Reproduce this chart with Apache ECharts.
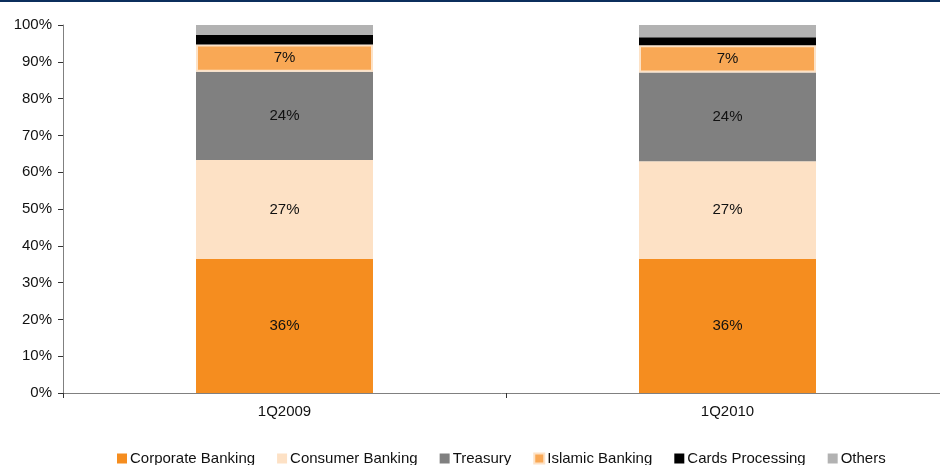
<!DOCTYPE html>
<html>
<head>
<meta charset="utf-8">
<style>
  html, body { margin: 0; padding: 0; background: #ffffff; }
  #chart { width: 940px; height: 465px; }
</style>
<script src="https://cdn.jsdelivr.net/npm/echarts@6/dist/echarts.min.js"></script>
</head>
<body>
<div id="chart"></div>
<script>
// Revenue mix by business segment (% of total)
const quarters = ['1Q2009', '1Q2010'];
const corporateBanking = [36.4, 36.4];
const consumerBanking = [26.9, 26.6];
const treasury = [24.0, 24.1];
const islamicBanking = [7.4, 7.4];
const cardsProcessing = [2.6, 2.2];
const others = [2.7, 3.3];
const yTicks = { min: 0, max: 100, step: 10 };

const FONT = '"Liberation Sans", Arial, sans-serif';
const FS = 15;

function seg(name, data, color, showLabel, extraStyle) {
  return {
    name: name,
    type: 'bar',
    stack: 'mix',
    barWidth: 177,
    data: data,
    itemStyle: Object.assign({ color: color }, extraStyle || {}),
    label: {
      show: showLabel,
      position: 'inside',
      fontFamily: FONT,
      fontSize: FS,
      color: '#111',
      formatter: p => Math.round(p.value) + '%'
    },
    emphasis: { disabled: true }
  };
}

const chart = echarts.init(document.getElementById('chart'), null, { renderer: 'canvas' });
chart.setOption({
  animation: false,
  backgroundColor: '#ffffff',
  graphic: [{
    type: 'rect',
    left: 0, top: 0,
    shape: { width: 940, height: 2 },
    style: { fill: '#0b2e5c' }
  }],
  // the category band runs slightly past the right edge of the canvas
  grid: { left: 63, width: 886, top: 25, bottom: 72, containLabel: false, outerBoundsMode: 'none' },
  legend: {
    left: 112,
    bottom: -6,
    itemWidth: 10,
    itemHeight: 10,
    itemGap: 22,
    icon: 'rect',
    textStyle: { fontFamily: FONT, fontSize: FS, color: '#111', padding: [0, 0, 0, -2] },
    data: ['Corporate Banking', 'Consumer Banking', 'Treasury', 'Islamic Banking', 'Cards Processing', 'Others']
  },
  xAxis: {
    type: 'category',
    data: quarters,
    axisLine: { lineStyle: { color: '#808080', width: 1 } },
    axisTick: { show: true, alignWithLabel: false, length: 5, lineStyle: { color: '#333' } },
    axisLabel: { fontFamily: FONT, fontSize: FS, color: '#111', margin: 11 }
  },
  yAxis: {
    type: 'value',
    min: yTicks.min,
    max: yTicks.max,
    interval: yTicks.step,
    splitLine: { show: false },
    axisLine: { show: true, lineStyle: { color: '#808080', width: 1 } },
    axisTick: { show: true, length: 5, lineStyle: { color: '#333' } },
    axisLabel: { fontFamily: FONT, fontSize: FS, color: '#111', margin: 11, formatter: '{value}%' }
  },
  series: [
    seg('Corporate Banking', corporateBanking, '#f58d1f', true),
    seg('Consumer Banking', consumerBanking, '#fde1c5', true),
    seg('Treasury', treasury, '#808080', true),
    seg('Islamic Banking', islamicBanking, '#f9a855', true, { borderColor: '#fde2c6', borderWidth: 2 }),
    seg('Cards Processing', cardsProcessing, '#000000', false),
    seg('Others', others, '#b2b2b2', false)
  ]
});
</script>
</body>
</html>
